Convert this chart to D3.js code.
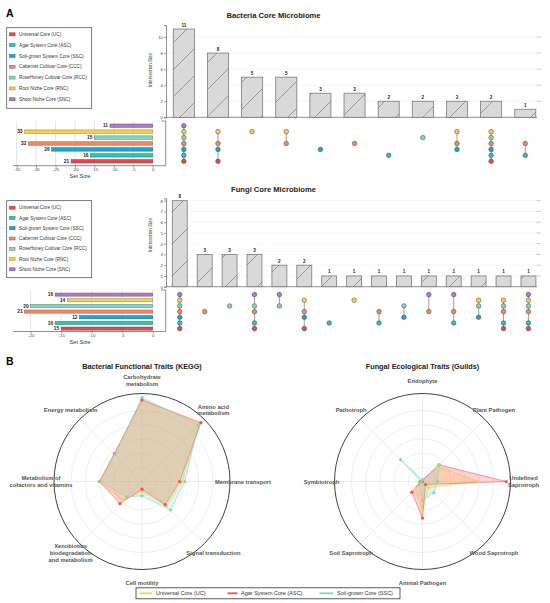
<!DOCTYPE html>
<html><head><meta charset="utf-8">
<script src="https://cdn.jsdelivr.net/npm/d3@7"></script>
<style>body{margin:0;background:#fff}svg{display:block;font-family:"Liberation Sans",Arial,Helvetica,sans-serif}</style>
</head><body><svg id="c" width="550" height="603"></svg>
<script>
// ---------- data ----------
const setKeys = ["UC","ASC","SSC","CCC","RCC","RNC","SNC"];
const setLabels = ["Universal Core (UC)","Agar System Core (ASC)","Soil-grown System Core (SSC)","Cabernet Cultivar Core (CCC)","RoseHoney Cultivar Core (RCC)","Root Niche Core (RNC)","Shoot Niche Core (SNC)"];
const setColors = ["#E9474C","#2EC2B3","#1DA4D2","#EF8A63","#80D4C0","#F3CF4B","#AA7BC6"];
const matrixOrder = ["SNC","RNC","RCC","CCC","SSC","ASC","UC"];

const bacteriaSetSizes = [21,16,26,32,15,33,11];
const bacteriaIntersectionSets = [
  ["SNC","RNC","RCC","CCC","SSC","ASC","UC"],
  ["RNC","CCC","SSC","UC"],
  ["RNC"],
  ["RNC","CCC"],
  ["SSC"],
  ["CCC"],
  ["ASC"],
  ["RCC"],
  ["RNC","CCC","SSC"],
  ["RNC","RCC","CCC","SSC","ASC","UC"],
  ["CCC","ASC"]
];
const bacteriaIntersectionSizes = [11,8,5,5,3,3,2,2,2,2,1];
const bacteriaSetTicks = [-35,-30,-25,-20,-15,-10,-5,0];
const bacteriaYTicks = [0,2,4,6,8,10];

const fungiSetSizes = [15,16,12,21,20,14,16];
const fungiIntersectionSets = [
  ["SNC","RNC","RCC","CCC","SSC","ASC","UC"],
  ["CCC"],
  ["RCC"],
  ["SNC","RCC","CCC","ASC","UC"],
  ["SNC","RCC"],
  ["RNC","CCC","SSC","UC"],
  ["ASC"],
  ["RNC"],
  ["CCC","ASC"],
  ["RCC","SSC"],
  ["SNC","CCC"],
  ["SNC","CCC","ASC"],
  ["RNC","RCC","SSC"],
  ["RNC","RCC","CCC","ASC","UC"],
  ["SNC","RNC","RCC","CCC","ASC","UC"]
];
const fungiIntersectionSizes = [8,3,3,3,2,2,1,1,1,1,1,1,1,1,1];
const fungiSetTicks = [-20,-15,-10,-5,0];
const fungiYTicks = [0,1,2,3,4,5,6,7,8];

const radarSeries = ["Universal Core (UC)","Agar System Core (ASC)","Soil-grown Core (SSC)"];
const radarColors = ["#FFD23F","#FF4B4B","#7DD8C2"];
const radarGrid = [10,20,30,40,50];

const bactAxisLabels = [["Carbohydrate","metabolism"],["Amino acid","metabolism"],["Membrane transport"],["Signal transduction"],["Cell motility"],["Xenobiotics","biodegradation","and metabolism"],["Metabolism of","cofactors and vitamins"],["Energy metabolism"]];
const bactUC  = [57.2, 57.8, 28.2, 24.4, 7.0, 19.0, 30.0, 27.5];
const bactASC = [57.5, 58.6, 26.5, 23.0, 5.4, 22.0, 30.0, 27.6];
const bactSSC = [59.2, 56.1, 30.2, 28.4, 10.1, 15.5, 30.0, 27.0];

const fungAxisLabels = [["Endophyte"],["Plant Pathogen"],["Undefined","Saprotroph"],["Wood Saprotroph"],["Animal Pathogen"],["Soil Saprotroph"],["Symbiotroph"],["Pathotroph"]];
const fungUC  = [1.0, 15.0, 39.5, 6.1, 20.7, 7.3, 2.0, 0.0];
const fungASC = [1.0, 16.6, 59.0, 3.0, 25.8, 10.6, 1.5, 0.0];
const fungSSC = [1.0, 16.6, 10.6, 11.3, 13.4, 3.3, 1.0, 21.8];

// ---------- drawing ----------
const svg = d3.select("#c");
const defs = svg.append("defs");
function hatch(id, s){
  const p = defs.append("pattern").attr("id",id).attr("patternUnits","userSpaceOnUse").attr("width",s).attr("height",s);
  p.append("path").attr("d",`M0,${s} L${s},0 M-2,2 L2,-2 M${s-2},${s+2} L${s+2},${s-2}`).attr("stroke","#555").attr("stroke-width",0.5);
}
hatch("hb",27); hatch("hf",32);

svg.append("text").attr("x",6).attr("y",17).attr("font-size",10.5).attr("font-weight","bold").text("A");
svg.append("text").attr("x",6).attr("y",364.5).attr("font-size",10.5).attr("font-weight","bold").text("B");

function upset(c){
  const g = svg.append("g");
  g.append("text").attr("x",273.5).attr("y",c.titleY).attr("text-anchor","middle").attr("font-weight","bold").attr("font-size",7.6).attr("fill","#222").text(c.title);
  // legend
  const L = c.legend;
  g.append("rect").attr("x",6.7).attr("y",L.y).attr("width",85).attr("height",L.h).attr("fill","#fff").attr("stroke","#444").attr("stroke-width",0.7);
  setKeys.forEach((k,i)=>{
    const yy = L.y0 + i*L.dy;
    g.append("rect").attr("x",9.5).attr("y",yy-1.5).attr("width",5.6).attr("height",3).attr("fill",setColors[i]).attr("stroke",d3.color(setColors[i]).darker(1.2)).attr("stroke-width",0.5);
    g.append("text").attr("x",19).attr("y",yy).attr("dy","0.35em").attr("font-size",4.7).attr("fill","#333").text(setLabels[i]);
  });
  // set size panel
  const sx = d3.scaleLinear().domain([c.setMin,0]).range([c.setLeft,152.7]);
  const ry = d3.scalePoint().domain(matrixOrder).range(c.rowRange);
  c.setTicks.forEach(t=>{
    g.append("line").attr("x1",sx(t)).attr("x2",sx(t)).attr("y1",c.setTop).attr("y2",c.axisY).attr("stroke","#c8c8c8").attr("stroke-width",0.5);
  });
  matrixOrder.forEach(k=>{
    const i = setKeys.indexOf(k), v = c.setSizes[i];
    g.append("rect").attr("x",sx(-v)).attr("y",ry(k)-c.barH/2).attr("width",sx(0)-sx(-v)).attr("height",c.barH)
      .attr("fill",setColors[i]).attr("stroke",d3.color(setColors[i]).darker(1.3)).attr("stroke-width",0.5);
    g.append("text").attr("x",sx(-v)-2).attr("y",ry(k)).attr("dy","0.35em").attr("text-anchor","end").attr("font-size",4.8).attr("font-weight","bold").attr("fill","#222").text(v);
  });
  g.append("path").attr("d",`M13,${c.axisY} H165.7 V${c.setTop} H161`).attr("fill","none").attr("stroke","#444").attr("stroke-width",0.6);
  const ax = g.append("g").attr("transform",`translate(0,${c.axisY})`).call(d3.axisBottom(sx).tickValues(c.setTicks).tickSize(2).tickFormat(d=>d));
  ax.select(".domain").remove();
  ax.selectAll("line").attr("stroke","#444").attr("stroke-width",0.5);
  ax.selectAll("text").attr("font-size",4.3).attr("fill","#444").attr("y",2.6).attr("font-family",null);
  g.append("text").attr("x",80).attr("y",c.axisY+12.6).attr("text-anchor","middle").attr("font-size",5.6).attr("fill","#333").text("Set Size");
  // intersection bars
  const n = c.sizes.length;
  const bx = d3.scaleBand().domain(d3.range(n)).range(c.barRange).paddingInner(c.pad).paddingOuter(0);
  const by = d3.scaleLinear().domain(c.yDomain).range(c.yRange);
  c.yTicks.forEach(t=>{
    if(t>0) g.append("line").attr("x1",166).attr("x2",536).attr("y1",by(t)).attr("y2",by(t)).attr("stroke","#efefef").attr("stroke-width",0.6);
    if(t>0) g.append("line").attr("x1",536.5).attr("x2",541).attr("y1",by(t)).attr("y2",by(t)).attr("stroke","#999").attr("stroke-width",0.5);
  });
  const yax = g.append("g").attr("transform","translate(166,0)").call(d3.axisLeft(by).tickValues(c.yTicks).tickSize(2));
  yax.select(".domain").attr("stroke","#444").attr("stroke-width",0.6);
  yax.selectAll("line").attr("stroke","#444").attr("stroke-width",0.5);
  yax.selectAll("text").attr("font-size",4.3).attr("fill","#444").attr("x",-3).attr("font-family",null);
  g.append("line").attr("x1",166).attr("x2",537).attr("y1",by(0)).attr("y2",by(0)).attr("stroke","#444").attr("stroke-width",0.6);
  g.append("text").attr("transform",`translate(152,${c.ylabY}) rotate(-90)`).attr("text-anchor","middle").attr("font-size",4.6).attr("fill","#333").text("Intersection Size");
  c.sizes.forEach((v,i)=>{
    const x = bx(i), w = bx.bandwidth();
    g.append("rect").attr("x",x).attr("y",by(v)).attr("width",w).attr("height",by(0)-by(v)).attr("fill","#d9d9d9");
    g.append("rect").attr("x",x).attr("y",by(v)).attr("width",w).attr("height",by(0)-by(v)).attr("fill",`url(#${c.hatch})`).attr("stroke","#7a7a7a").attr("stroke-width",0.8);
    g.append("text").attr("x",x+w/2).attr("y",by(v)-2.5).attr("text-anchor","middle").attr("font-size",4.6).attr("font-weight","bold").attr("fill","#222").text(v);
    // matrix
    const cx = x + w/2;
    const ys = c.sets[i].map(k=>ry(k));
    if(ys.length>1) g.append("line").attr("x1",cx).attr("x2",cx).attr("y1",d3.min(ys)).attr("y2",d3.max(ys)).attr("stroke","#a8a8a8").attr("stroke-width",1.1);
    c.sets[i].forEach(k=>{
      const col = setColors[setKeys.indexOf(k)];
      g.append("circle").attr("cx",cx).attr("cy",ry(k)).attr("r",2.3).attr("fill",col).attr("stroke","#333").attr("stroke-width",0.45);
    });
  });
}

upset({title:"Bacteria Core Microbiome", titleY:17.5,
  legend:{y:27.7,h:80.6,y0:34.3,dy:10.83},
  setMin:-35, setLeft:16.7, setTicks:bacteriaSetTicks, setSizes:bacteriaSetSizes,
  rowRange:[125.7,161.3], barH:3.4, setTop:121, axisY:165.7,
  sizes:bacteriaIntersectionSizes, sets:bacteriaIntersectionSets,
  barRange:[173.3,535.8], pad:0.383, yDomain:[0,11.5], yRange:[117.3,25], yTicks:bacteriaYTicks, ylabY:70, hatch:"hb"});

upset({title:"Fungi Core Microbiome", titleY:192,
  legend:{y:200.7,h:77,y0:207.7,dy:10.27},
  setMin:-20, setLeft:30.7, setTicks:fungiSetTicks, setSizes:fungiSetSizes,
  rowRange:[294.6,328.6], barH:3.1, setTop:290, axisY:331.5,
  sizes:fungiIntersectionSizes, sets:fungiIntersectionSets,
  barRange:[172.3,535.9], pad:0.4, yDomain:[0,8.22], yRange:[286.7,198.3], yTicks:fungiYTicks, ylabY:235, hatch:"hf"});

function radar(c){
  const R = 88, n = c.labels.length;
  const r = d3.scaleLinear().domain([0,62]).range([0,R]);
  const ang = i => i*2*Math.PI/n;
  const g = svg.append("g").attr("transform",`translate(${c.cx},${c.cy})`);
  svg.append("text").attr("x",c.cx).attr("y",368.5).attr("text-anchor","middle").attr("font-size",7.3).attr("font-weight","bold").attr("fill","#222").text(c.title);
  radarGrid.forEach(v=>g.append("circle").attr("r",r(v)).attr("fill","none").attr("stroke","#e2e2e2").attr("stroke-width",0.6));
  d3.range(n).forEach(i=>g.append("line").attr("x1",0).attr("y1",0).attr("x2",R*Math.sin(ang(i))).attr("y2",-R*Math.cos(ang(i))).attr("stroke","#e2e2e2").attr("stroke-width",0.6));
  g.append("circle").attr("r",R).attr("fill","none").attr("stroke","#2a2a2a").attr("stroke-width",0.9);
  const line = d3.lineRadial().angle((d,i)=>ang(i)).radius(d=>r(d)).curve(d3.curveLinearClosed);
  c.data.forEach((vals,s)=>{
    g.append("path").attr("d",line(vals)).attr("fill",radarColors[s]).attr("fill-opacity",0.24).attr("stroke",radarColors[s]).attr("stroke-opacity",0.8).attr("stroke-width",0.7);
  });
  c.data.forEach((vals,s)=>{
    vals.forEach((v,i)=>g.append("circle").attr("cx",r(v)*Math.sin(ang(i))).attr("cy",-r(v)*Math.cos(ang(i))).attr("r",1.6).attr("fill",radarColors[s]));
  });
  c.labels.forEach((lines,i)=>{
    const x = 101*Math.sin(ang(i)), y = -101*Math.cos(ang(i));
    const lh = 6.6, y0 = y - (lines.length-1)*lh/2;
    const t = g.append("text").attr("text-anchor","middle").attr("font-size",5.8).attr("font-weight","bold").attr("fill","#555");
    lines.forEach((ln,j)=>t.append("tspan").attr("x",x).attr("y",y0+j*lh).attr("dy","0.35em").text(ln));
  });
}
radar({cx:142,cy:481.5,title:"Bacterial Functional Traits (KEGG)",labels:bactAxisLabels,data:[bactUC,bactASC,bactSSC]});
radar({cx:422.5,cy:481.5,title:"Fungal Ecological Traits (Guilds)",labels:fungAxisLabels,data:[fungUC,fungASC,fungSSC]});

// bottom legend
const lg = svg.append("g");
lg.append("rect").attr("x",136).attr("y",587.8).attr("width",264).attr("height",11).attr("fill","#fff").attr("stroke","#333").attr("stroke-width",0.8);
const legX = [[139.5,152,156],[227.5,237.5,241],[319.5,333,337]];
radarSeries.forEach((s,i)=>{
  lg.append("line").attr("x1",legX[i][0]).attr("x2",legX[i][1]).attr("y1",593.3).attr("y2",593.3).attr("stroke",radarColors[i]).attr("stroke-width",1.8);
  lg.append("text").attr("x",legX[i][2]).attr("y",593.3).attr("dy","0.35em").attr("font-size",5.5).attr("fill","#333").text(s);
});
</script></body></html>
